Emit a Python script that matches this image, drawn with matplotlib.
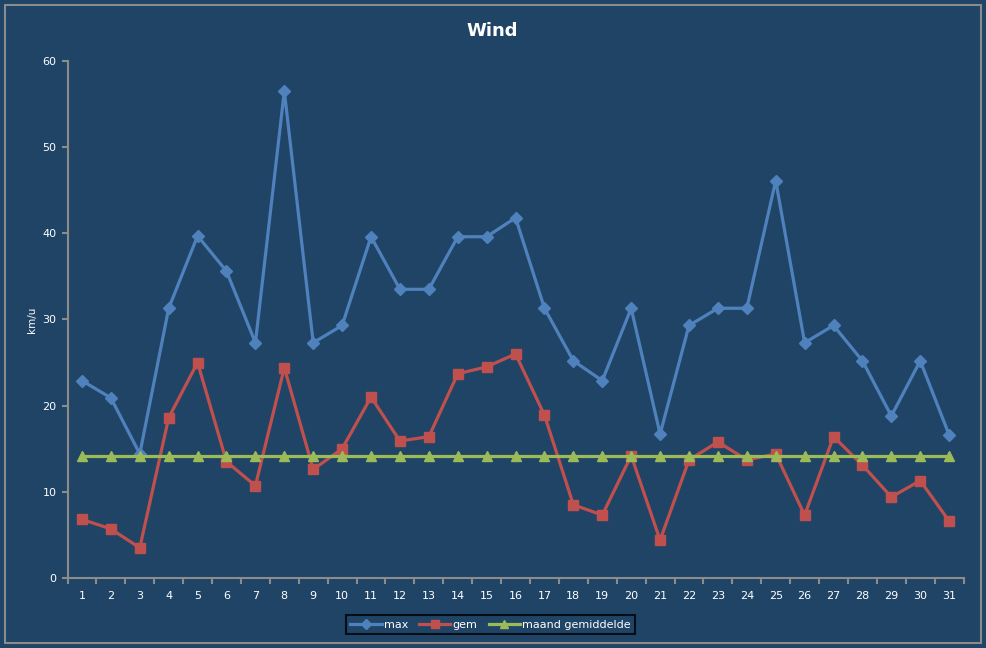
import matplotlib.pyplot as plt
import numpy as np
from matplotlib.patches import Rectangle

days = list(range(1, 32))
wind_max = [22.9, 20.9, 14.4, 31.3, 39.7, 35.6, 27.3, 56.5, 27.3, 29.3, 39.6,
            33.5, 33.5, 39.6, 39.6, 41.8, 31.3, 25.2, 22.9, 31.3, 16.7, 29.3,
            31.3, 31.3, 46.1, 27.3, 29.3, 25.2, 18.8, 25.2, 16.6]
wind_gem = [6.8, 5.7, 3.5, 18.6, 25.0, 13.5, 10.7, 24.4, 12.6, 15.0, 21.0,
            15.9, 16.4, 23.7, 24.5, 26.0, 18.9, 8.5, 7.3, 14.2, 4.4, 13.7,
            15.8, 13.7, 14.4, 7.3, 16.4, 13.1, 9.4, 11.3, 6.6]
maand_gem = [14.1] * 31

bg = '#1F4466'
grey = '#8C8C8C'

fig = plt.figure(figsize=(9.87, 6.48), dpi=100, facecolor=bg)
ax = fig.add_axes([0.0684, 0.108, 0.9079, 0.798])
ax.set_facecolor(bg)

# outer frame of the chart area
fig.patches.append(Rectangle((0.005, 0.007), 0.989, 0.985, transform=fig.transFigure,
                             fill=False, edgecolor=grey, linewidth=1.5))

x = np.arange(len(days))
ax.plot(x, wind_max, color='#4F81BD', lw=2.3, marker='D', ms=6, label='max')
ax.plot(x, wind_gem, color='#C0504D', lw=2.3, marker='s', ms=7, label='gem')
ax.plot(x, maand_gem, color='#9BBB59', lw=2.3, marker='^', ms=7, label='maand gemiddelde')

ax.set_xlim(-0.5, len(days) - 0.5)
ax.set_ylim(0, 60)
ax.set_yticks(range(0, 61, 10))
ax.set_xticks(x)
ax.set_xticklabels([str(d) for d in days])
ax.set_xticks(np.arange(-0.5, len(days)), minor=True)
ax.tick_params(axis='x', which='major', length=0, pad=9, colors='white', labelsize=8)
ax.tick_params(axis='x', which='minor', length=4, color=grey, width=1.5)
ax.tick_params(axis='y', length=4, color=grey, width=1.5, colors='white', labelsize=8, pad=4)
for t in ax.get_yticklabels() + ax.get_xticklabels():
    t.set_color('white')

for side in ['top', 'right']:
    ax.spines[side].set_visible(False)
for side in ['left', 'bottom']:
    ax.spines[side].set_color(grey)
    ax.spines[side].set_linewidth(1.5)

fig.text(0.4985, 0.952, 'Wind', color='white', fontsize=13, fontweight='bold',
         ha='center', va='center')
ax.set_ylabel('km/u', color='white', fontsize=7.5, labelpad=4)

leg = fig.legend(loc='center', bbox_to_anchor=(0.497, 0.036), ncol=3, frameon=True,
                 fontsize=8, handlelength=2.8, columnspacing=1.0, handletextpad=0.2,
                 borderpad=0.4, fancybox=False, markerscale=0.9)
leg.get_frame().set_facecolor(bg)
leg.get_frame().set_edgecolor('black')
leg.get_frame().set_linewidth(1.5)
for t in leg.get_texts():
    t.set_color('white')

fig.savefig('out.png', dpi=100, facecolor=bg)
